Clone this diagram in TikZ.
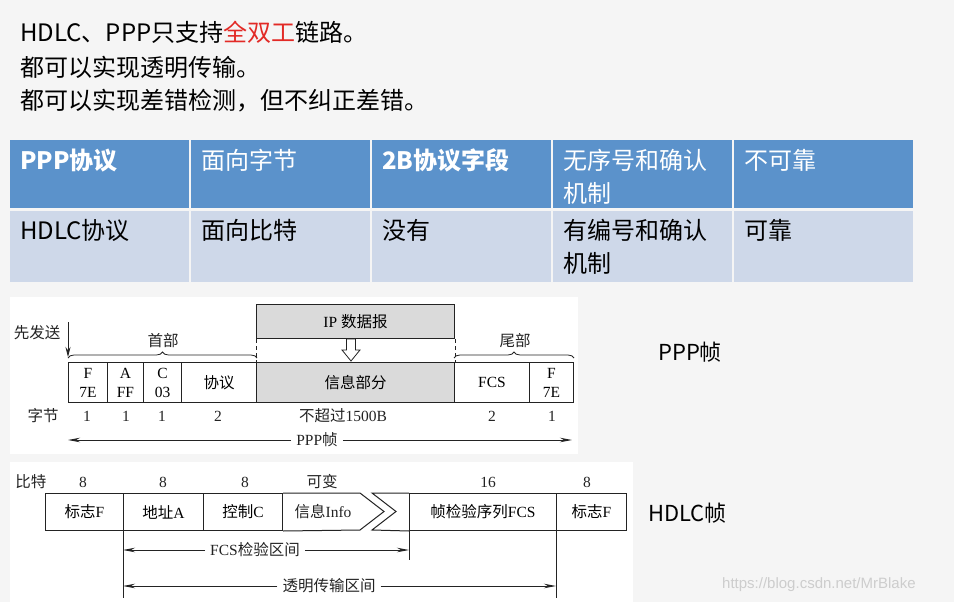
\documentclass[tikz,border=0pt]{standalone}
\usepackage{fontspec}
\setmainfont{Liberation Serif}
\newfontfamily\cjk{Noto Sans CJK SC}
\newfontfamily\wmfont{Liberation Sans}
\usetikzlibrary{decorations.pathreplacing,arrows.meta}
\definecolor{bg}{RGB}{245,245,245}
\definecolor{hdr}{RGB}{91,146,203}
\definecolor{rowc}{RGB}{206,216,233}
\definecolor{boxgray}{RGB}{218,218,218}
\definecolor{redtxt}{RGB}{226,42,38}
\definecolor{ln}{RGB}{35,35,35}
\definecolor{wmgray}{RGB}{205,205,205}
\newcommand{\zh}[1]{{\cjk #1}}
\newcommand{\dfont}{\fontsize{15.5}{19}\selectfont}
\begin{document}
\begin{tikzpicture}[x=1pt,y=-1pt,
  toptext/.style={anchor=base west, inner sep=0, font=\cjk\fontsize{24}{28}\selectfont},
  hcell/.style={fill=hdr, anchor=north west, minimum width=179, minimum height=68, inner sep=0},
  rcell/.style={fill=rowc, anchor=north west, minimum width=179, minimum height=71, inner sep=0},
  htext/.style={anchor=base west, inner sep=0, text=white, font=\cjk\fontsize{24}{28}\selectfont},
  rtext/.style={anchor=base west, inner sep=0, text=black, font=\cjk\fontsize{24}{28}\selectfont},
  fbox/.style={draw=ln, line width=1pt, anchor=north west, minimum height=40, inner sep=0, align=center, font=\dfont},
  hbox/.style={draw=ln, line width=1pt, anchor=north west, minimum height=37, inner sep=0, align=center, font=\dfont},
  frame/.style={draw=ln, line width=1pt},
  lbl/.style={anchor=base, inner sep=0, font=\dfont, text=ln},
  arrlbl/.style={inner sep=5pt, fill=white, font=\dfont, text=ln},
  arr/.style={draw=ln, line width=0.9pt, -{Stealth[length=12pt,width=4.5pt]}},
  brc/.style={draw=ln, line width=0.8pt, decorate, decoration={brace, amplitude=6pt}},
  bigtext/.style={anchor=base west, inner sep=0, font=\cjk\fontsize{22}{26}\selectfont},
]
\path[use as bounding box, fill=bg] (0,0) rectangle (954,602);

% top text
\node[toptext] (t1) at (20,42) {HDLC、PPP只支持\textcolor{redtxt}{全双工}链路。};
\node[toptext] (t2) at (20,77) {都可以实现透明传输。};
\node[toptext] (t3) at (20,110) {都可以实现差错检测，但不纠正差错。};

% table
\node[hcell] (h1) at (10,140) {};
\node[hcell] (h2) at (191,140) {};
\node[hcell] (h3) at (372,140) {};
\node[hcell] (h4) at (553,140) {};
\node[hcell] (h5) at (734,140) {};
\node[rcell] (r1) at (10,211) {};
\node[rcell] (r2) at (191,211) {};
\node[rcell] (r3) at (372,211) {};
\node[rcell] (r4) at (553,211) {};
\node[rcell] (r5) at (734,211) {};

\node[htext, font=\cjk\bfseries\fontsize{24}{28}\selectfont] (ht1) at (20,169) {PPP协议};
\node[htext] (ht2) at (201,169) {面向字节};
\node[htext, font=\cjk\bfseries\fontsize{24}{28}\selectfont] (ht3) at (382,169) {2B协议字段};
\node[htext] (ht4a) at (563,169) {无序号和确认};
\node[htext] (ht4b) at (563,202) {机制};
\node[htext] (ht5) at (744,169) {不可靠};

\node[rtext] (rt1) at (20,239) {HDLC协议};
\node[rtext] (rt2) at (201,239) {面向比特};
\node[rtext] (rt3) at (382,239) {没有};
\node[rtext] (rt4a) at (563,239) {有编号和确认};
\node[rtext] (rt4b) at (563,272) {机制};
\node[rtext] (rt5) at (744,239) {可靠};

% PPP frame panel
\fill[white] (10,297) rectangle (578,454);
\node[fbox, fill=boxgray, minimum width=198, minimum height=34] (ip) at (256,304) {IP \zh{数据报}};
\node[fbox, minimum width=39] (pF1) at (68,362) {F\\7E};
\node[fbox, minimum width=36] (pA) at (107,362) {A\\FF};
\node[fbox, minimum width=38] (pC) at (143,362) {C\\03};
\node[fbox, minimum width=75] (pP) at (181,362) {\zh{协议}};
\node[fbox, fill=boxgray, minimum width=198] (pI) at (256,362) {\zh{信息部分}};
\node[fbox, minimum width=75] (pFCS) at (454,362) {FCS};
\node[fbox, minimum width=44] (pF2) at (529,362) {F\\7E};

\draw[draw=ln, line width=1pt, dash pattern=on 4pt off 3pt] (ip.south west) -- (pI.north west);
\draw[draw=ln, line width=1pt, dash pattern=on 4pt off 3pt] (ip.south east) -- (pI.north east);

% hollow arrow
\draw[draw=ln, line width=0.8pt, fill=white] (346.5,339) -- (355.5,339) -- (355.5,350) -- (360,350) -- (351,361) -- (342,350) -- (346.5,350) -- cycle;

\node[lbl] (xfs) at (37,338) {\zh{先发送}};
\coordinate (sd) at (68,322);
\draw[draw=ln, line width=0.9pt, -{Stealth[length=10pt,width=5pt]}, shorten >=5pt] (sd) -- (pF1.north west);

\draw[brc] ([yshift=4pt]pF1.north west) -- ([yshift=4pt]pP.north east);
\draw[brc] ([yshift=4pt]pFCS.north west) -- ([yshift=4pt]pF2.north east);
\node[lbl] (shoubu) at (163,346) {\zh{首部}};
\node[lbl] (weibu) at (515,346) {\zh{尾部}};

\node[lbl] (zj) at (43,421) {\zh{字节}};
\node[lbl] (n1) at (87,421) {1};
\node[lbl] (n2) at (126,421) {1};
\node[lbl] (n3) at (162,421) {1};
\node[lbl] (n4) at (218,421) {2};
\node[lbl] (n5) at (343,421) {\zh{不超过}1500B};
\node[lbl] (n6) at (492,421) {2};
\node[lbl] (n7) at (552,421) {1};

\node[arrlbl] (pppl) at (317,440) {PPP\zh{帧}};
\coordinate (pl) at (68,440);
\coordinate (pr) at (572,440);
\draw[arr] (pppl) -- (pl);
\draw[arr] (pppl) -- (pr);

\node[bigtext] (pppr) at (658,360) {PPP帧};

% HDLC panel
\fill[white] (10,462) rectangle (633,602);
\node[lbl] (bt) at (31,487) {\zh{比特}};
\node[lbl] (m1) at (83,487) {8};
\node[lbl] (m2) at (163,487) {8};
\node[lbl] (m3) at (245,487) {8};
\node[lbl] (m4) at (322,487) {\zh{可变}};
\node[lbl] (m5) at (488,487) {16};
\node[lbl] (m6) at (587,487) {8};

\node[hbox, minimum width=78] (hF1) at (45,493) {\zh{标志}F};
\node[hbox, minimum width=80] (hA) at (123,493) {\zh{地址}A};
\node[hbox, minimum width=79] (hC) at (203,493) {\zh{控制}C};
\node[hbox, minimum width=147] (hFCS) at (409,493) {\zh{帧检验序列}FCS};
\node[hbox, minimum width=70] (hF2) at (556,493) {\zh{标志}F};
\draw[frame] (hC.north east) -- (360,493) -- (384,511.5) -- (360,530) -- (hC.south east);
\draw[frame] (hFCS.north west) -- (372,493) -- (396,511.5) -- (372,530) -- (hFCS.south west);
\node[inner sep=0, font=\dfont, text=ln] (hI) at (323,511.5) {\zh{信息}Info};

\coordinate (v1) at (123,598);
\coordinate (v2) at (409,560);
\coordinate (v3) at (556,598);
\draw[draw=ln, line width=0.9pt] (hA.south west) -- (v1);
\draw[draw=ln, line width=0.9pt] (hFCS.south west) -- (v2);
\draw[draw=ln, line width=0.9pt] (hF2.south west) -- (v3);

\node[arrlbl] (fcsl) at (255,550) {FCS\zh{检验区间}};
\coordinate (a1) at (123,550);
\coordinate (a2) at (409,550);
\draw[arr] (fcsl) -- (a1);
\draw[arr] (fcsl) -- (a2);

\node[arrlbl] (tml) at (329,586) {\zh{透明传输区间}};
\coordinate (b1) at (123,586);
\coordinate (b2) at (556,586);
\draw[arr] (tml) -- (b1);
\draw[arr] (tml) -- (b2);

\node[bigtext] (hdlcr) at (648,521) {HDLC帧};
\node[anchor=base west, inner sep=0, font=\wmfont\fontsize{15}{18}\selectfont, text=wmgray] (wm) at (722,588) {https://blog.csdn.net/MrBlake};
\end{tikzpicture}
\end{document}
